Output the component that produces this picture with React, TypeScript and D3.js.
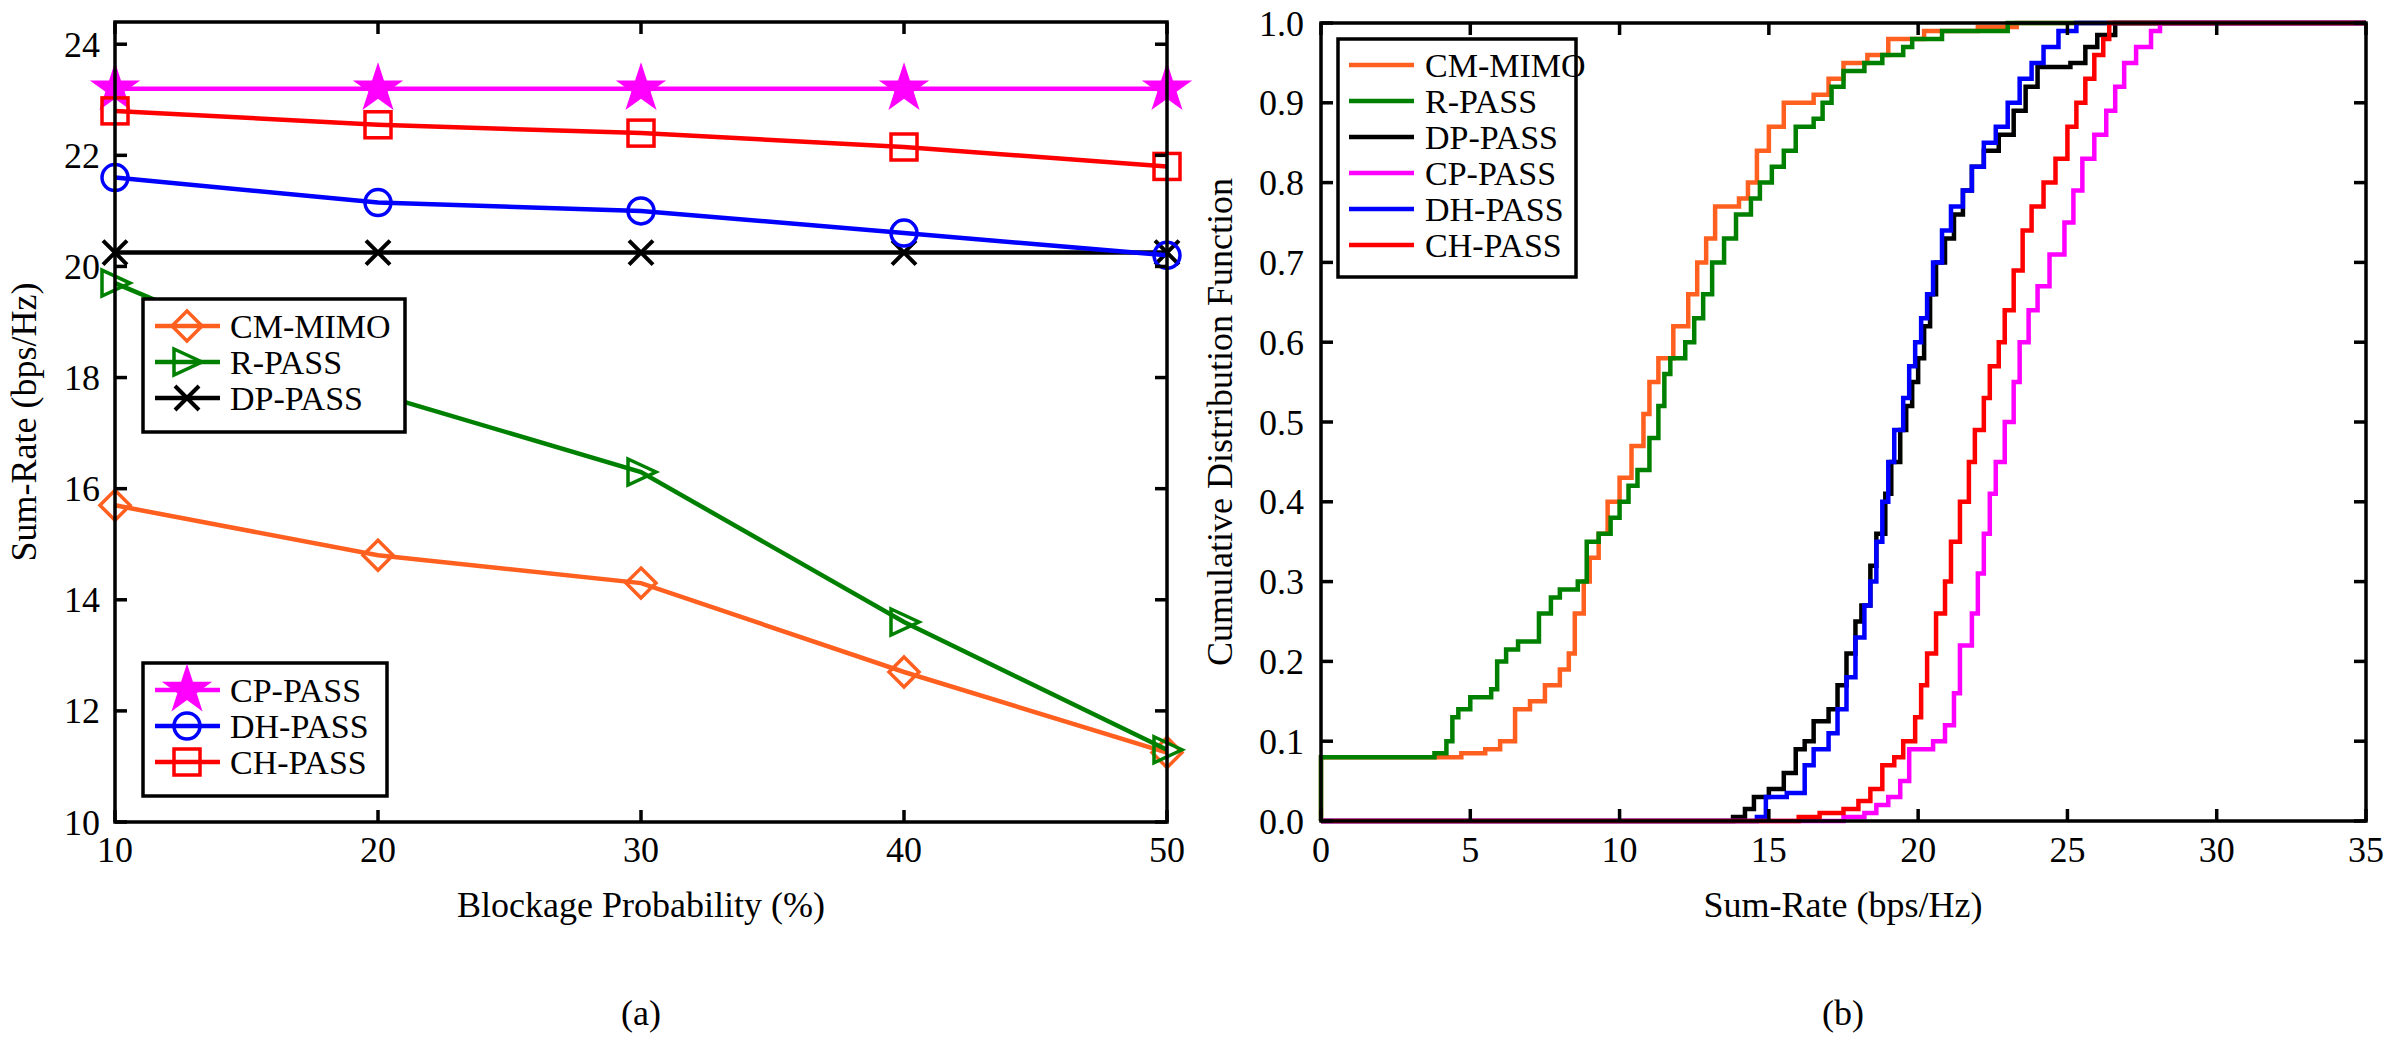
import React from 'react';
import * as d3 from 'd3';

// (a) sum-rate vs blockage probability
const blockage = [10, 20, 30, 40, 50];
const cmMimo = [15.7, 14.8, 14.3, 12.7, 11.25];
const rPass = [19.7, 17.7, 16.3, 13.6, 11.3];
const dpPass = [20.25, 20.25, 20.25, 20.25, 20.25];
const cpPass = [23.2, 23.2, 23.2, 23.2, 23.2];
const dhPass = [21.6, 21.15, 21.0, 20.6, 20.2];
const chPass = [22.8, 22.55, 22.4, 22.15, 21.8];

// (b) CDF step points [sum-rate, cdf]
const cdfCmMimo: [number, number][] = [[0, 0], [0, 0.08], [4.7, 0.085], [5.5, 0.09], [6.0, 0.1], [6.5, 0.14], [7.0, 0.15], [7.5, 0.17], [8.0, 0.19], [8.3, 0.21], [8.5, 0.26], [8.8, 0.3], [9.0, 0.33], [9.3, 0.36], [9.6, 0.4], [10.0, 0.43], [10.4, 0.47], [10.8, 0.51], [11.0, 0.55], [11.3, 0.58], [11.8, 0.62], [12.3, 0.66], [12.6, 0.7], [12.9, 0.73], [13.2, 0.77], [14.0, 0.78], [14.3, 0.8], [14.6, 0.84], [15.0, 0.87], [15.5, 0.9], [16.5, 0.91], [17.0, 0.93], [17.5, 0.95], [18.3, 0.96], [19.0, 0.98], [20.2, 0.99], [22.0, 0.995], [23.3, 1.0], [35, 1.0]];
const cdfRPass: [number, number][] = [[0, 0], [0, 0.08], [3.8, 0.085], [4.2, 0.1], [4.4, 0.13], [4.6, 0.14], [5.0, 0.155], [5.7, 0.165], [5.9, 0.2], [6.2, 0.215], [6.6, 0.225], [7.3, 0.26], [7.7, 0.28], [8.0, 0.29], [8.6, 0.3], [8.9, 0.35], [9.3, 0.36], [9.7, 0.38], [10.0, 0.4], [10.3, 0.42], [10.6, 0.44], [11.0, 0.48], [11.3, 0.52], [11.5, 0.56], [11.7, 0.58], [12.2, 0.6], [12.5, 0.63], [12.8, 0.66], [13.1, 0.7], [13.5, 0.73], [13.9, 0.76], [14.4, 0.78], [14.7, 0.8], [15.1, 0.82], [15.5, 0.84], [15.9, 0.87], [16.5, 0.88], [16.8, 0.9], [17.1, 0.92], [17.5, 0.94], [18.2, 0.95], [18.8, 0.96], [19.5, 0.97], [19.8, 0.98], [20.8, 0.99], [23.0, 1.0], [35, 1.0]];
const cdfDpPass: [number, number][] = [[0, 0], [13.8, 0.005], [14.2, 0.015], [14.5, 0.03], [15.0, 0.04], [15.5, 0.06], [15.9, 0.09], [16.2, 0.1], [16.5, 0.125], [17.0, 0.14], [17.3, 0.17], [17.6, 0.21], [17.9, 0.25], [18.1, 0.27], [18.4, 0.32], [18.6, 0.36], [18.9, 0.41], [19.1, 0.45], [19.4, 0.49], [19.6, 0.52], [19.8, 0.55], [20.0, 0.58], [20.2, 0.62], [20.4, 0.66], [20.6, 0.7], [20.9, 0.73], [21.2, 0.76], [21.5, 0.79], [21.8, 0.82], [22.2, 0.84], [22.7, 0.86], [23.2, 0.89], [23.6, 0.92], [24.0, 0.945], [25.1, 0.95], [25.6, 0.97], [26.0, 0.985], [26.6, 1.0], [35, 1.0]];
const cdfCpPass: [number, number][] = [[0, 0], [17.5, 0.005], [18.2, 0.01], [18.6, 0.02], [19.0, 0.03], [19.4, 0.05], [19.7, 0.09], [20.5, 0.1], [20.9, 0.12], [21.2, 0.16], [21.4, 0.22], [21.8, 0.26], [22.0, 0.31], [22.2, 0.36], [22.4, 0.41], [22.6, 0.45], [22.9, 0.5], [23.2, 0.55], [23.4, 0.6], [23.7, 0.64], [24.0, 0.67], [24.4, 0.71], [24.9, 0.75], [25.2, 0.79], [25.5, 0.83], [25.9, 0.86], [26.3, 0.89], [26.6, 0.92], [26.9, 0.95], [27.3, 0.97], [27.8, 0.99], [28.1, 1.0], [35, 1.0]];
const cdfDhPass: [number, number][] = [[0, 0], [14.6, 0.005], [14.9, 0.03], [15.6, 0.035], [16.2, 0.07], [16.5, 0.09], [17.0, 0.11], [17.3, 0.14], [17.6, 0.18], [17.9, 0.23], [18.2, 0.27], [18.4, 0.3], [18.6, 0.35], [18.8, 0.4], [19.0, 0.45], [19.2, 0.49], [19.5, 0.53], [19.7, 0.57], [19.9, 0.6], [20.1, 0.63], [20.3, 0.66], [20.5, 0.7], [20.8, 0.74], [21.1, 0.77], [21.5, 0.79], [21.8, 0.82], [22.2, 0.85], [22.6, 0.87], [23.0, 0.9], [23.4, 0.93], [23.8, 0.95], [24.2, 0.97], [24.7, 0.99], [25.3, 1.0], [35, 1.0]];
const cdfChPass: [number, number][] = [[0, 0], [16.0, 0.005], [16.7, 0.01], [17.5, 0.015], [18.0, 0.025], [18.4, 0.04], [18.8, 0.07], [19.2, 0.08], [19.5, 0.1], [19.9, 0.13], [20.1, 0.17], [20.3, 0.21], [20.6, 0.26], [20.9, 0.3], [21.1, 0.35], [21.4, 0.4], [21.7, 0.45], [21.9, 0.49], [22.2, 0.53], [22.4, 0.57], [22.7, 0.6], [22.9, 0.64], [23.2, 0.69], [23.5, 0.74], [23.8, 0.77], [24.2, 0.8], [24.6, 0.83], [25.0, 0.87], [25.3, 0.9], [25.6, 0.93], [25.9, 0.96], [26.2, 0.98], [26.4, 1.0], [35, 1.0]];

const yTicksA = [10, 12, 14, 16, 18, 20, 22, 24];
const xTicksB = [0, 5, 10, 15, 20, 25, 30, 35];
const yTicksB = d3.range(0, 11).map(i => i / 10);

const COL = { cm: '#ff5f1f', r: '#008000', dp: '#000000', cp: '#ff00ff', dh: '#0000ff', ch: '#ff0000' };
const FONT = '"Liberation Serif", "Times New Roman", serif';

type Shape = 'diamond' | 'tri' | 'x' | 'star' | 'circle' | 'square';

function Marker({ shape, cx, cy, color }: { shape: Shape; cx: number; cy: number; color: string }) {
  const r = 15;
  const common = { fill: 'none', stroke: color, strokeWidth: 3.5 };
  if (shape === 'diamond') return <path d={`M${cx},${cy - r}L${cx + r},${cy}L${cx},${cy + r}L${cx - r},${cy}Z`} {...common} />;
  if (shape === 'tri') return <path d={`M${cx - 13},${cy - 13}L${cx + 15},${cy}L${cx - 13},${cy + 13}Z`} {...common} />;
  if (shape === 'x') return <path d={`M${cx - 12},${cy - 12}L${cx + 12},${cy + 12}M${cx - 12},${cy + 12}L${cx + 12},${cy - 12}`} {...common} strokeWidth={4} />;
  if (shape === 'circle') return <circle cx={cx} cy={cy} r={13} {...common} />;
  if (shape === 'square') return <rect x={cx - 13} y={cy - 13} width={26} height={26} {...common} />;
  const star = d3.symbol(d3.symbolStar, 650)();
  return <path d={star || ''} transform={`translate(${cx},${cy})`} fill={color} stroke={color} strokeWidth={1.5} />;
}

export default function App() {
  // panel (a)
  const xa = d3.scaleLinear().domain([10, 50]).range([115, 1167]);
  const ya = d3.scaleLinear().domain([10, 24.4]).range([822, 22]);
  // panel (b)
  const xb = d3.scaleLinear().domain([0, 35]).range([1321, 2366]);
  const yb = d3.scaleLinear().domain([0, 1]).range([821, 23]);

  const seriesA: { name: string; vals: number[]; color: string; shape: Shape }[] = [
    { name: 'CM-MIMO', vals: cmMimo, color: COL.cm, shape: 'diamond' },
    { name: 'R-PASS', vals: rPass, color: COL.r, shape: 'tri' },
    { name: 'DP-PASS', vals: dpPass, color: COL.dp, shape: 'x' },
    { name: 'CP-PASS', vals: cpPass, color: COL.cp, shape: 'star' },
    { name: 'DH-PASS', vals: dhPass, color: COL.dh, shape: 'circle' },
    { name: 'CH-PASS', vals: chPass, color: COL.ch, shape: 'square' },
  ];
  const seriesB = [
    { name: 'CM-MIMO', pts: cdfCmMimo, color: COL.cm },
    { name: 'R-PASS', pts: cdfRPass, color: COL.r },
    { name: 'DP-PASS', pts: cdfDpPass, color: COL.dp },
    { name: 'CP-PASS', pts: cdfCpPass, color: COL.cp },
    { name: 'DH-PASS', pts: cdfDhPass, color: COL.dh },
    { name: 'CH-PASS', pts: cdfChPass, color: COL.ch },
  ];

  const lineA = (vals: number[]) =>
    d3.line<number>().x((_, i) => xa(blockage[i])).y(d => ya(d))(vals) || '';
  const lineB = d3.line<[number, number]>().x(d => xb(d[0])).y(d => yb(d[1])).curve(d3.curveStepAfter);

  const tick = 12;
  const fs = 36;

  return (
    <svg width={2392} height={1043} style={{ position: 'absolute', left: 0, top: 0, background: '#fff' }} fontFamily={FONT}>
      {/* ---- panel (a) ---- */}
      {seriesA.map(s => (
        <g key={s.name}>
          <path d={lineA(s.vals)} fill="none" stroke={s.color} strokeWidth={4.5} />
          {s.vals.map((v, i) => <Marker key={i} shape={s.shape} cx={xa(blockage[i])} cy={ya(v)} color={s.color} />)}
        </g>
      ))}
      <rect x={115} y={22} width={1167 - 115} height={822 - 22} fill="none" stroke="#000" strokeWidth={3.5} />
      {yTicksA.map(t => (
        <g key={t}>
          <line x1={115} x2={115 + tick} y1={ya(t)} y2={ya(t)} stroke="#000" strokeWidth={3.5} />
          <line x1={1167} x2={1167 - tick} y1={ya(t)} y2={ya(t)} stroke="#000" strokeWidth={3.5} />
          <text x={100} y={ya(t)} dy="0.35em" textAnchor="end" fontSize={fs}>{t}</text>
        </g>
      ))}
      {blockage.map(t => (
        <g key={t}>
          <line x1={xa(t)} x2={xa(t)} y1={822} y2={822 - tick} stroke="#000" strokeWidth={3.5} />
          <line x1={xa(t)} x2={xa(t)} y1={22} y2={22 + tick} stroke="#000" strokeWidth={3.5} />
          <text x={xa(t)} y={862} textAnchor="middle" fontSize={fs}>{t}</text>
        </g>
      ))}
      <text x={641} y={917} textAnchor="middle" fontSize={fs}>Blockage Probability (%)</text>
      <text transform={`translate(36,422) rotate(-90)`} textAnchor="middle" fontSize={fs}>Sum-Rate (bps/Hz)</text>
      <text x={641} y={1025} textAnchor="middle" fontSize={fs}>(a)</text>

      {[{ y0: 299, items: seriesA.slice(0, 3), w: 262 }, { y0: 663, items: seriesA.slice(3), w: 244 }].map((lg, li) => (
        <g key={li}>
          <rect x={143} y={lg.y0} width={lg.w} height={133} fill="#fff" stroke="#000" strokeWidth={3.5} />
          {lg.items.map((s, i) => {
            const cy = lg.y0 + 27 + i * 36;
            return (
              <g key={s.name}>
                <line x1={155} x2={220} y1={cy} y2={cy} stroke={s.color} strokeWidth={4.5} />
                <Marker shape={s.shape} cx={187} cy={cy} color={s.color} />
                <text x={230} y={cy} dy="0.35em" fontSize={34}>{s.name}</text>
              </g>
            );
          })}
        </g>
      ))}

      {/* ---- panel (b) ---- */}
      {seriesB.map(s => (
        <path key={s.name} d={lineB(s.pts) || ''} fill="none" stroke={s.color} strokeWidth={4.5} />
      ))}
      <rect x={1321} y={23} width={2366 - 1321} height={821 - 23} fill="none" stroke="#000" strokeWidth={3.5} />
      {yTicksB.map(t => (
        <g key={t}>
          <line x1={1321} x2={1321 + tick} y1={yb(t)} y2={yb(t)} stroke="#000" strokeWidth={3.5} />
          <line x1={2366} x2={2366 - tick} y1={yb(t)} y2={yb(t)} stroke="#000" strokeWidth={3.5} />
          <text x={1304} y={yb(t)} dy="0.35em" textAnchor="end" fontSize={fs}>{t.toFixed(1)}</text>
        </g>
      ))}
      {xTicksB.map(t => (
        <g key={t}>
          <line x1={xb(t)} x2={xb(t)} y1={821} y2={821 - tick} stroke="#000" strokeWidth={3.5} />
          <line x1={xb(t)} x2={xb(t)} y1={23} y2={23 + tick} stroke="#000" strokeWidth={3.5} />
          <text x={xb(t)} y={862} textAnchor="middle" fontSize={fs}>{t}</text>
        </g>
      ))}
      <text x={1843} y={917} textAnchor="middle" fontSize={fs}>Sum-Rate (bps/Hz)</text>
      <text transform={`translate(1232,422) rotate(-90)`} textAnchor="middle" fontSize={fs}>Cumulative Distribution Function</text>
      <text x={1843} y={1025} textAnchor="middle" fontSize={fs}>(b)</text>

      <rect x={1338} y={39} width={238} height={238} fill="#fff" stroke="#000" strokeWidth={3.5} />
      {seriesB.map((s, i) => {
        const cy = 65 + i * 36;
        return (
          <g key={s.name}>
            <line x1={1349} x2={1414} y1={cy} y2={cy} stroke={s.color} strokeWidth={4.5} />
            <text x={1425} y={cy} dy="0.35em" fontSize={34}>{s.name}</text>
          </g>
        );
      })}
    </svg>
  );
}
